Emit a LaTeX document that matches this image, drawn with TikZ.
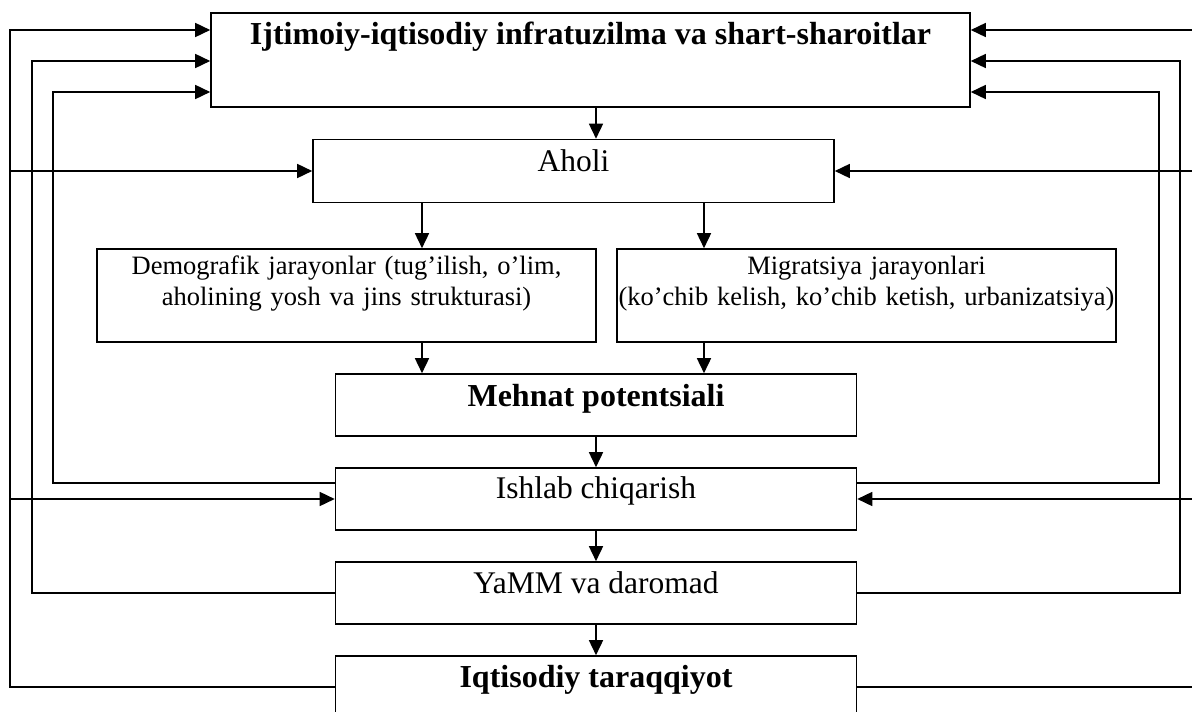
\documentclass[tikz,border=0pt]{standalone}
\usepackage{fontspec}
\setmainfont{Liberation Serif}
\usetikzlibrary{arrows.meta}

\begin{document}
\begin{tikzpicture}[x=1pt,y=-1pt,
        blok/.style={draw,line width=1.6pt,inner sep=0pt,align=center,
                     minimum width=521pt,font=\fontsize{31.5}{38}\selectfont},
        kichik/.style={text width=499pt,minimum width=499pt,font=\fontsize{26.5}{31}\selectfont},
        qalin/.style={font=\fontsize{32}{38}\selectfont\bfseries},
        strelka/.style={line width=1.6pt,-{Triangle[length=15pt,width=14pt]}}]
      \useasboundingbox (0,0) rectangle (1192,712);
      \fill[white] (0,0) rectangle (1192,712);
      \clip (0,0) rectangle (1192,712);
      % bloklar
      \node[blok,qalin,minimum width=759pt,text height=32pt,text depth=62pt] (infra) at(590.5,60){Ijtimoiy-iqtisodiy infratuzilma va shart-sharoitlar};
      \node[blok,text height=32pt,text depth=31pt]        (aholi)  at(573.5,171){Aholi};
      \node[blok,kichik,text height=25pt,text depth=68pt] (demo)   at(346.5,295.5){Demografik jarayonlar (tug’ilish, o’lim,\\aholining yosh va jins strukturasi)};
      \node[blok,kichik,text height=25pt,text depth=68pt] (migr)   at(866.5,295.5){Migratsiya jarayonlari\\(ko’chib kelish, ko’chib ketish, urbanizatsiya)};
      \node[blok,qalin,text height=32pt,text depth=30pt]  (mehnat) at(596,405){Mehnat potentsiali};
      \node[blok,text height=30pt,text depth=32pt]        (ishlab) at(596,499){Ishlab chiqarish};
      \node[blok,text height=31pt,text depth=31pt]        (yamm)   at(596,593){YaMM va daromad};
      \node[blok,qalin,text height=31pt,text depth=31pt]  (iqt)    at(596,687){Iqtisodiy taraqqiyot};
      % yordamchi nuqtalar
      \coordinate (ox)   at(596,0);
      \coordinate (chap) at(422,0);
      \coordinate (ong)  at(704,0);
      \coordinate (L1) at(10,30);
      \coordinate (L2) at(32,61);
      \coordinate (L3) at(53,92);
      \coordinate (R1) at(1202,30);
      \coordinate (R2) at(1180,61);
      \coordinate (R3) at(1159,92);
      % markaziy oqim
      \draw[strelka] (infra.south -| ox) -- (aholi.north -| ox);
      \draw[strelka] (aholi.south -| chap) -- (demo.north -| chap);
      \draw[strelka] (aholi.south -| ong) -- (migr.north -| ong);
      \draw[strelka] (demo.south -| chap) -- (mehnat.north -| chap);
      \draw[strelka] (migr.south -| ong) -- (mehnat.north -| ong);
      \draw[strelka] (mehnat.south) -- (ishlab.north);
      \draw[strelka] (ishlab.south) -- (yamm.north);
      \draw[strelka] (yamm.south) -- (iqt.north);
      % chap tomondagi qaytish
      \draw[strelka] (iqt.west) -| (L1) -- (L1 -| infra.west);
      \draw[strelka] (L1 |- aholi.west) -- (aholi.west);
      \draw[strelka] (L1 |- ishlab.west) -- (ishlab.west);
      \draw[strelka] (yamm.west) -| (L2) -- (L2 -| infra.west);
      \draw[strelka] ([yshift=16pt]ishlab.west) -| (L3) -- (L3 -| infra.west);
      % o'ng tomondagi qaytish
      \draw[strelka] (iqt.east) -| (R1) -- (R1 -| infra.east);
      \draw[strelka] (R1 |- aholi.east) -- (aholi.east);
      \draw[strelka] (R1 |- ishlab.east) -- (ishlab.east);
      \draw[strelka] (yamm.east) -| (R2) -- (R2 -| infra.east);
      \draw[strelka] ([yshift=16pt]ishlab.east) -| (R3) -- (R3 -| infra.east);
    \end{tikzpicture}
\end{document}
